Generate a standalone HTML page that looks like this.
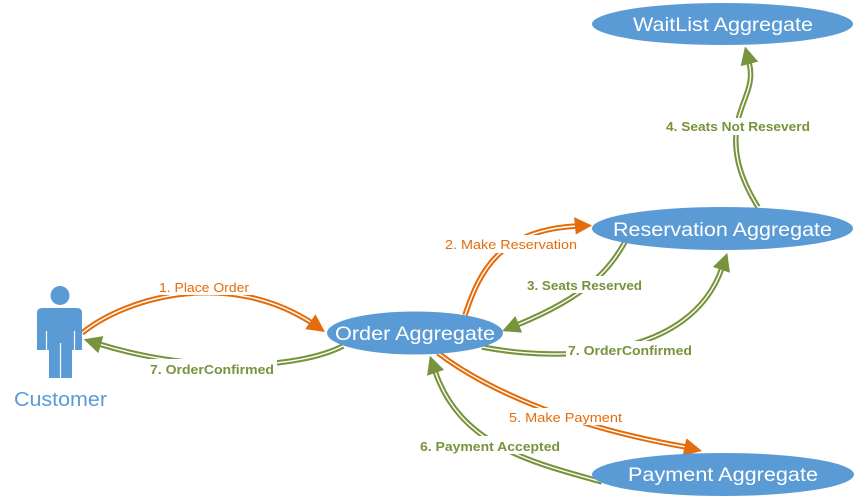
<!DOCTYPE html>
<html><head><meta charset="utf-8"><style>
html,body{margin:0;padding:0;background:#fff;}
svg{display:block;}
text{font-family:"Liberation Sans",sans-serif;}
</style></head><body>
<svg width="856" height="500" viewBox="0 0 856 500" xmlns="http://www.w3.org/2000/svg">
<rect width="856" height="500" fill="#fff"/>
<g fill="none" stroke-linecap="butt">
  <g stroke="#e46c0a" stroke-width="5.5">
    <path d="M82,333 C130,295 230,270 312,323"/>
    <path d="M465,315 C480,270 500,230 577,226"/>
    <path d="M438,353 C480,385 560,425 686,447"/>
  </g>
  <g stroke="#fff" stroke-width="1.4">
    <path d="M82,333 C130,295 230,270 312,323"/>
    <path d="M465,315 C480,270 500,230 577,226"/>
    <path d="M438,353 C480,385 560,425 686,447"/>
  </g>
  <g stroke="#77933c" stroke-width="5.5">
    <path d="M343,346 C300,368 200,375 99,344"/>
    <path d="M625,242 C610,268 590,295 517,325"/>
    <path d="M482,347 C560,362 690,360 722,268"/>
    <path d="M758,207 C738,175 732,148 738,120 C743,98 755,85 749,62"/>
    <path d="M602,482 C530,462 460,445 435,371"/>
  </g>
  <g stroke="#fff" stroke-width="1.4">
    <path d="M343,346 C300,368 200,375 99,344"/>
    <path d="M625,242 C610,268 590,295 517,325"/>
    <path d="M482,347 C560,362 690,360 722,268"/>
    <path d="M758,207 C738,175 732,148 738,120 C743,98 755,85 749,62"/>
    <path d="M602,482 C530,462 460,445 435,371"/>
  </g>
</g>
<g fill="#e46c0a">
  <polygon points="325,332 305.2,329.1 315.5,314.3"/>
  <polygon points="592,225.5 574.1,217.1 575.8,234.5"/>
  <polygon points="702,451 682.6,455.8 686.4,438.3"/>
</g>
<g fill="#77933c">
  <polygon points="83.7,339.3 103.4,336.1 98.3,353.1"/>
  <polygon points="502.2,331.1 522.1,332.6 515.4,316"/>
  <polygon points="727.3,252.9 729.9,272.7 712.9,266.9"/>
  <polygon points="745,46.5 758.2,61.6 740.7,66.1"/>
  <polygon points="429.9,355.8 444.1,369.9 427.1,375.7"/>
</g>
<g fill="#fff">
  <rect x="157" y="278" width="95" height="17"/>
  <rect x="147" y="359" width="130" height="18"/>
  <rect x="442" y="235" width="138" height="18"/>
  <rect x="524" y="276" width="121" height="17"/>
  <rect x="566" y="341" width="129" height="17"/>
  <rect x="663" y="118" width="150" height="17"/>
  <rect x="506" y="408" width="119" height="17"/>
  <rect x="417" y="436" width="146" height="18"/>
</g>
<g font-size="12.5">
  <text x="159" y="292" fill="#e46c0a" textLength="90" lengthAdjust="spacingAndGlyphs">1. Place Order</text>
  <text x="445" y="249" fill="#e46c0a" textLength="132" lengthAdjust="spacingAndGlyphs">2. Make Reservation</text>
  <text x="509" y="422" fill="#e46c0a" textLength="113" lengthAdjust="spacingAndGlyphs">5. Make Payment</text>
</g>
<g font-size="12.5" font-weight="bold" fill="#77933c">
  <text x="150" y="374" textLength="124" lengthAdjust="spacingAndGlyphs">7. OrderConfirmed</text>
  <text x="527" y="290" textLength="115" lengthAdjust="spacingAndGlyphs">3. Seats Reserved</text>
  <text x="568" y="355" textLength="124" lengthAdjust="spacingAndGlyphs">7. OrderConfirmed</text>
  <text x="666" y="131" textLength="144" lengthAdjust="spacingAndGlyphs">4. Seats Not Reseverd</text>
  <text x="420" y="451" textLength="140" lengthAdjust="spacingAndGlyphs">6. Payment Accepted</text>
</g>
<g fill="#5b9bd5">
  <ellipse cx="722.5" cy="24" rx="130.5" ry="21"/>
  <ellipse cx="722.5" cy="228.5" rx="130.5" ry="21.5"/>
  <ellipse cx="415" cy="333" rx="88" ry="21.5"/>
  <ellipse cx="723" cy="474.5" rx="131" ry="21.5"/>
</g>
<g fill="#fff" font-size="19.5">
  <text x="633" y="31" textLength="180" lengthAdjust="spacingAndGlyphs">WaitList Aggregate</text>
  <text x="613" y="236" textLength="219" lengthAdjust="spacingAndGlyphs">Reservation Aggregate</text>
  <text x="335" y="340" textLength="160" lengthAdjust="spacingAndGlyphs">Order Aggregate</text>
  <text x="628" y="481" textLength="190" lengthAdjust="spacingAndGlyphs">Payment Aggregate</text>
</g>
<g fill="#5b9bd5">
  <circle cx="60" cy="295.5" r="9.5"/>
  <path d="M37,313 Q37,308 42,308 L77,308 Q82,308 82,313 L82,350 L72,350 L72,378 L49,378 L49,350 L37,350 Z"/>
</g>
<g stroke="#fff" stroke-width="1.2">
  <line x1="46.5" y1="331" x2="46.5" y2="351"/>
  <line x1="74.5" y1="331" x2="74.5" y2="351"/>
  <line x1="60.5" y1="343" x2="60.5" y2="379"/>
</g>
<text x="14" y="406" fill="#5b9bd5" font-size="20" textLength="93" lengthAdjust="spacingAndGlyphs">Customer</text>
</svg>
</body></html>
